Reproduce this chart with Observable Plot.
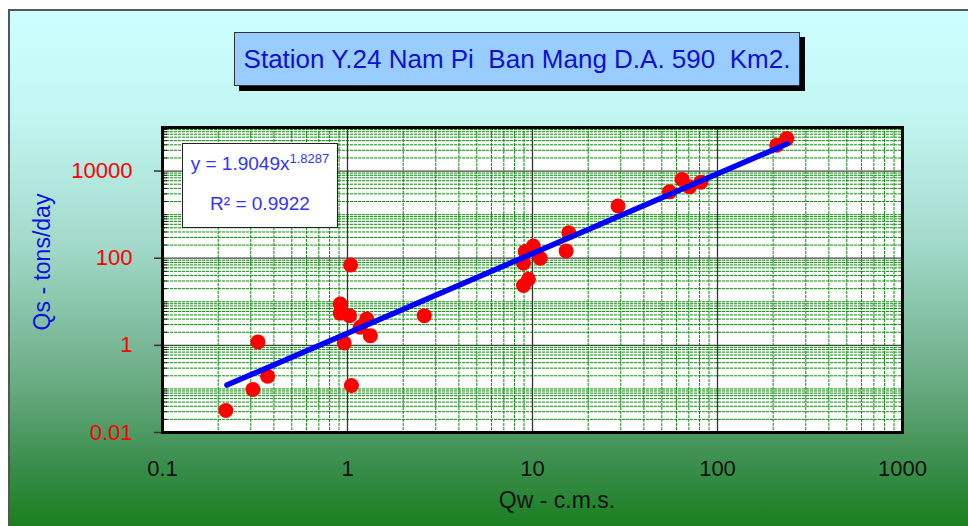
<!DOCTYPE html>
<html>
<head>
<meta charset="utf-8">
<script src="https://cdn.jsdelivr.net/npm/d3@7"></script>
<script src="https://cdn.jsdelivr.net/npm/@observablehq/plot@0.6"></script>
<style>
  html, body { margin: 0; padding: 0; background: #fff; }
  #wrap { position: relative; width: 968px; height: 526px; overflow: hidden; font-family: "Liberation Sans Narrow", "Liberation Sans", sans-serif; }
  #bg { position: absolute; left: 8px; top: 9px; right: -2px; bottom: -2px;
        border: 2px solid #555;
        background: linear-gradient(to bottom, #CCFFFF 0%, #C2F6F2 20%, #A3DACB 45%, #6AAC84 72%, #3A8E4C 88%, #1A7F1F 100%); }
  #chart { position: absolute; left: 0; top: 0; }
  #title { position: absolute; left: 234px; top: 32px; width: 564px; height: 52px;
           background: #99CCFF; border: 1px solid #333; box-shadow: 5px 5px 0 #000;
           color: #1010D0; font-size: 26px; line-height: 52px; text-align: center; white-space: pre; }
  #eq { position: absolute; left: 182px; top: 143px; width: 154px; height: 83px;
        background: #fff; border: 1px solid #222; color: #3333FF; font-size: 19px; text-align: center; }
  #eq .l1 { position: absolute; left: 0; right: 0; top: 9px; }
  #eq .l2 { position: absolute; left: 0; right: 0; top: 49px; }
  #eq sup { font-size: 13px; vertical-align: 7px; line-height: 0; }
  #ylab { position: absolute; left: 42px; top: 262px; transform: translate(-50%, -50%) rotate(-90deg);
          color: #1010E0; font-size: 23px; white-space: nowrap; }
  #xlab { position: absolute; left: 557px; top: 500px; transform: translate(-50%, -50%);
          color: #111; font-size: 23px; white-space: nowrap; }
</style>
</head>
<body>
<div id="wrap">
  <div id="bg"></div>
  <div id="chart"></div>
  <div id="title">Station Y.24 Nam Pi  Ban Mang D.A. 590  Km2.</div>
  <div id="eq"><div class="l1">y = 1.9049x<sup>1.8287</sup></div><div class="l2">R² = 0.9922</div></div>
  <div id="ylab">Qs - tons/day</div>
  <div id="xlab">Qw - c.m.s.</div>
</div>
<script>
// Observed data (Qw in c.m.s., Qs in tons/day)
const qw = [0.220, 0.308, 0.370, 0.328, 1.04, 0.913, 0.913, 1.025, 0.96, 1.05, 1.27, 1.17, 1.33, 2.60,
            10.1, 9.14, 11.0, 8.94, 9.5, 8.94, 15.7, 15.2, 29.0, 55.0, 64.3, 70.6, 81.3, 209, 237];
const qs = [0.032, 0.097, 0.195, 1.2, 70, 8.9, 5.5, 4.8, 1.13, 0.12, 4.0, 2.6, 1.67, 4.8,
            191, 142, 100, 77, 33, 23.6, 385, 147, 1574, 3340, 6430, 4350, 5570, 39100, 55700];
// Power trendline endpoints (y = 1.9049x^1.8287)
const trendX = [0.223, 238];
const trendY = [0.1225, 42250];
// Axis tick labels
const xTicks = [0.1, 1, 10, 100, 1000];
const yTicks = [0.01, 1, 100, 10000];

const points = qw.map((x, i) => ({x, y: qs[i]}));
const trend = trendX.map((x, i) => ({x, y: trendY[i]}));

const minorX = [];
for (let d = -1; d <= 2; d++) for (let k = 2; k <= 9; k++) minorX.push(k * Math.pow(10, d));
const minorY = [];
for (let d = -2; d <= 4; d++) {
  for (let k = 2; k <= 9; k++) minorY.push(k * Math.pow(10, d));
  if (d % 2 !== 0) minorY.push(Math.pow(10, d));
}

const fmt = d => String(+d.toPrecision(6));

const chart = Plot.plot({
  width: 968, height: 526,
  marginLeft: 162, marginRight: 66, marginTop: 127, marginBottom: 94,
  x: {type: "log", domain: [0.1, 1000]},
  y: {type: "log", domain: [0.01, 100000]},
  style: {background: "transparent", overflow: "visible", fontFamily: '"Liberation Sans Narrow", "Liberation Sans", sans-serif'},
  marks: [
    Plot.frame({fill: "white"}),
    Plot.ruleX(minorX, {stroke: "#0a8a0a", strokeDasharray: "3,1", strokeWidth: 1}),
    Plot.ruleY(minorY, {stroke: "#0a8a0a", strokeDasharray: "3,1", strokeWidth: 1}),
    Plot.ruleX([1, 10, 100], {stroke: "#333", strokeWidth: 1.3}),
    Plot.ruleY([1, 100, 10000], {stroke: "#444", strokeWidth: 1.3}),
    Plot.ruleY(minorY, {x1: 0.1, x2: 0.1065, stroke: "#111", strokeWidth: 1}),
    Plot.ruleY(yTicks, {x1: 0.0905, x2: 0.1, stroke: "#333", strokeWidth: 1.5}),
    Plot.dot(points, {x: "x", y: "y", r: 7.5, fill: "#ff0000", stroke: null}),
    Plot.line(trend, {x: "x", y: "y", stroke: "#0000ff", strokeWidth: 5.5}),
    Plot.frame({stroke: "#000", strokeWidth: 3}),
    Plot.axisX({ticks: xTicks, tickFormat: fmt, tickSize: 0, tickPadding: 28, fontSize: 22, fill: "#111", label: null}),
    Plot.axisY({ticks: yTicks, tickFormat: fmt, tickSize: 0, tickPadding: 30, fontSize: 22, fill: "#ff0000", label: null})
  ]
});
document.getElementById("chart").appendChild(chart);
</script>
</body>
</html>
